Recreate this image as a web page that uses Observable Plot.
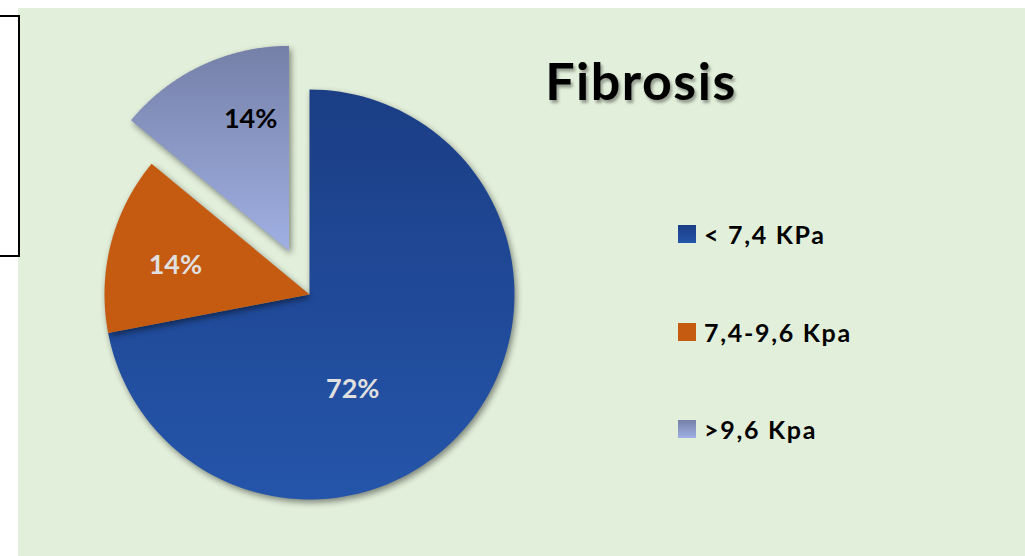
<!DOCTYPE html>
<html><head><meta charset="utf-8">
<script src="https://cdn.jsdelivr.net/npm/d3@7"></script>
<script src="https://cdn.jsdelivr.net/npm/@observablehq/plot@0.6"></script>
<style>
html,body{margin:0;padding:0;background:#fff;width:1025px;height:556px;overflow:hidden;font-family:Lato,"Open Sans",sans-serif;}
#bg{position:absolute;left:18px;top:8px;width:1007px;height:548px;background:#e2efda;}
#box{position:absolute;left:-4px;top:15px;width:20px;height:238px;border:2px solid #000;background:#fff;}
#chart{position:absolute;left:0;top:0;}
#chart svg{background:transparent;overflow:visible;}
#title{position:absolute;left:541px;width:200px;top:49px;text-align:center;font-weight:bold;font-size:52px;line-height:62px;letter-spacing:1.5px;color:#000;text-shadow:2px 3px 3px rgba(0,0,0,0.35);}
.leg{position:absolute;left:678px;display:flex;align-items:center;height:30px;}
.sw{width:18px;height:18px;margin-right:8px;}
.lt{font-weight:bold;font-size:25px;letter-spacing:1.7px;color:#000;}
g[aria-label="line"] path{filter:drop-shadow(2px 3px 3px rgba(0,0,0,0.45));}
</style></head>
<body>
<div id="bg"></div>
<div id="box"></div>
<div id="chart"></div>
<div id="title"></div>
<div id="legend"></div>
<script>
// ---- data ----
const title = "Fibrosis";
const categories = ["< 7,4 KPa", "7,4-9,6 Kpa", ">9,6 Kpa"];
const values = [72, 14, 14];
const labels = ["72%", "14%", "14%"];

// ---- styles / layout ----
const gradients = [["#1b3e85", "#2555aa"], ["#c55a11", "#c55a11"], ["#7580a8", "#a0b0e3"]];
const labelColors = ["#e0e0e0", "#e0e0e0", "#000"];
const exploded = [0, 0, 0.235];        // offset in radius units
const labelRadius = [0.51, 0.67, 0.67];
const labelAngleShift = [26, -2, 9];   // degrees
const R = 205, CX = 309, CY = 294, W = 1025, H = 556;

const pie = d3.pie().sort(null).value(d => d)(values);
const pts = [];
const labs = [];
pie.forEach((p, i) => {
  const mid = (p.startAngle + p.endAngle) / 2;
  const ox = exploded[i] * Math.sin(mid), oy = exploded[i] * Math.cos(mid);
  const n = 120;
  pts.push({i, x: ox, y: oy});
  for (let k = 0; k <= n; k++) {
    const a = p.startAngle + (p.endAngle - p.startAngle) * k / n;
    pts.push({i, x: ox + Math.sin(a), y: oy + Math.cos(a)});
  }
  pts.push({i, x: ox, y: oy});
  const la = mid + labelAngleShift[i] * Math.PI / 180;
  labs.push({i, text: labels[i], x: ox + labelRadius[i] * Math.sin(la), y: oy + labelRadius[i] * Math.cos(la)});
});

const chart = Plot.plot({
  width: W, height: H,
  margin: 0,
  x: {domain: [-CX / R, (W - CX) / R], axis: null},
  y: {domain: [-(H - CY) / R, CY / R], axis: null},
  marks: [
    ...pie.map((p, i) => Plot.line(pts.filter(d => d.i === i), {x: "x", y: "y", fill: `url(#g${i})`, stroke: "none", curve: "linear"})),
    Plot.text(labs, {x: "x", y: "y", text: "text", fill: d => labelColors[d.i], fontSize: 27, fontWeight: "bold", fontFamily: "Lato, 'Open Sans', sans-serif"})
  ],
  color: {type: "identity"}
});
const defs = gradients.map((g, i) =>
  `<linearGradient id="g${i}" x1="0" y1="0" x2="0" y2="1"><stop offset="0" stop-color="${g[0]}"/><stop offset="1" stop-color="${g[1]}"/></linearGradient>`).join("");
chart.insertAdjacentHTML("afterbegin", `<defs>${defs}</defs>`);
document.getElementById("chart").appendChild(chart);

document.getElementById("title").textContent = title;
const legTops = [219, 317, 414];
const leg = document.getElementById("legend");
categories.forEach((c, i) => {
  const row = document.createElement("div");
  row.className = "leg";
  row.style.top = legTops[i] + "px";
  row.innerHTML = `<div class="sw" style="background:linear-gradient(${gradients[i][0]},${gradients[i][1]})"></div><div class="lt"></div>`;
  row.querySelector(".lt").textContent = c;
  leg.appendChild(row);
});
</script>
</body></html>
